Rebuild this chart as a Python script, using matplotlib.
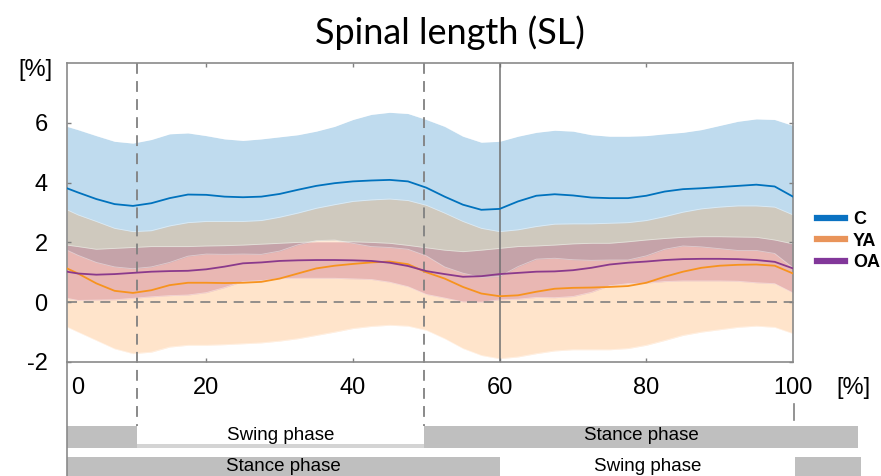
import numpy as np
import matplotlib
matplotlib.use("Agg")
import matplotlib.pyplot as plt
from matplotlib.lines import Line2D
from matplotlib.patches import Rectangle

plt.rcParams["font.family"] = ["Liberation Sans", "DejaVu Sans"]

# gait cycle [%]
x = [1, 2.5, 5, 7.5, 10, 12.5, 15, 17.5, 20, 22.5, 25, 27.5, 30, 32.5, 35, 37.5, 40,
     42.5, 45, 47.5, 50, 52.5, 55, 57.5, 60, 62.5, 65, 67.5, 70, 72.5, 75, 77.5, 80,
     82.5, 85, 87.5, 90, 92.5, 95, 97.5, 100]

c_mean = [3.81, 3.67, 3.45, 3.28, 3.22, 3.31, 3.48, 3.60, 3.59, 3.53, 3.51, 3.53, 3.62,
          3.76, 3.89, 3.98, 4.04, 4.07, 4.09, 4.04, 3.83, 3.53, 3.26, 3.09, 3.12, 3.37,
          3.56, 3.61, 3.57, 3.50, 3.48, 3.48, 3.56, 3.70, 3.78, 3.81, 3.85, 3.89, 3.93,
          3.87, 3.53]
c_upper = [5.88, 5.77, 5.57, 5.38, 5.32, 5.44, 5.63, 5.66, 5.57, 5.46, 5.41, 5.46, 5.53,
           5.60, 5.72, 5.88, 6.11, 6.28, 6.35, 6.31, 6.11, 5.88, 5.55, 5.35, 5.38, 5.55,
           5.68, 5.75, 5.72, 5.60, 5.55, 5.55, 5.57, 5.63, 5.68, 5.77, 5.91, 6.05, 6.13,
           6.11, 5.91]
c_lower = [1.74, 1.57, 1.33, 1.18, 1.12, 1.18, 1.33, 1.54, 1.61, 1.60, 1.61, 1.60, 1.71,
           1.92, 2.06, 2.08, 1.97, 1.86, 1.83, 1.77, 1.55, 1.18, 0.97, 0.83, 0.86, 1.19,
           1.44, 1.47, 1.42, 1.40, 1.41, 1.41, 1.55, 1.77, 1.88, 1.85, 1.79, 1.73, 1.73,
           1.63, 1.15]

ya_mean = [1.13, 0.96, 0.63, 0.38, 0.31, 0.40, 0.57, 0.65, 0.65, 0.64, 0.65, 0.68, 0.79,
           0.96, 1.13, 1.22, 1.28, 1.33, 1.36, 1.27, 1.00, 0.79, 0.51, 0.29, 0.20, 0.23,
           0.35, 0.45, 0.48, 0.49, 0.51, 0.54, 0.65, 0.85, 1.02, 1.15, 1.22, 1.25, 1.26,
           1.22, 0.96]
ya_upper = [3.09, 2.92, 2.70, 2.47, 2.36, 2.39, 2.55, 2.66, 2.70, 2.70, 2.70, 2.73, 2.84,
            2.98, 3.14, 3.26, 3.37, 3.42, 3.45, 3.40, 3.24, 2.98, 2.70, 2.47, 2.36, 2.42,
            2.53, 2.61, 2.62, 2.62, 2.64, 2.66, 2.73, 2.86, 3.01, 3.12, 3.18, 3.22, 3.22,
            3.18, 2.92]
ya_lower = [-0.83, -1.00, -1.28, -1.56, -1.72, -1.67, -1.50, -1.44, -1.44, -1.42, -1.39,
            -1.36, -1.30, -1.22, -1.11, -1.00, -0.88, -0.81, -0.77, -0.80, -0.94, -1.22,
            -1.55, -1.78, -1.89, -1.83, -1.72, -1.63, -1.59, -1.59, -1.59, -1.55, -1.44,
            -1.28, -1.11, -1.00, -0.92, -0.84, -0.80, -0.84, -1.05]

oa_mean = [1.02, 0.96, 0.92, 0.94, 0.98, 1.02, 1.04, 1.05, 1.10, 1.19, 1.30, 1.33, 1.38,
           1.40, 1.41, 1.41, 1.40, 1.38, 1.32, 1.21, 1.04, 0.94, 0.85, 0.87, 0.94, 0.98,
           1.02, 1.03, 1.07, 1.15, 1.26, 1.32, 1.36, 1.41, 1.44, 1.45, 1.45, 1.44, 1.41,
           1.35, 1.13]
oa_upper = [1.91, 1.86, 1.77, 1.80, 1.83, 1.86, 1.86, 1.86, 1.88, 1.89, 1.91, 1.94, 1.97,
            2.00, 2.02, 2.02, 2.02, 2.00, 1.97, 1.90, 1.82, 1.74, 1.69, 1.74, 1.80, 1.86,
            1.88, 1.91, 1.95, 1.97, 1.97, 2.02, 2.08, 2.13, 2.17, 2.19, 2.19, 2.18, 2.17,
            2.08, 1.95]
oa_lower = [0.13, 0.06, 0.07, 0.08, 0.13, 0.18, 0.22, 0.24, 0.32, 0.49, 0.69, 0.72, 0.79,
            0.80, 0.80, 0.80, 0.78, 0.76, 0.67, 0.52, 0.26, 0.14, 0.01, 0.00, 0.08, 0.10,
            0.16, 0.15, 0.19, 0.33, 0.55, 0.62, 0.64, 0.69, 0.71, 0.71, 0.71, 0.70, 0.65,
            0.62, 0.31]

groups = ["C", "YA", "OA"]
y_ticks = [-2, 0, 2, 4, 6]
x_labels = ["0", "20", "40", "60", "80", "100"]
x_label_pos = [2.5, 20, 40, 60, 80, 100]

# gait events (toe-off / heel strike) and phase rows
events = [10.5, 49.7]
foot_strike = 60
row1 = [(1, 10.5, "gray", ""), (10.5, 49.7, "white", "Swing phase"), (49.7, 108.9, "gray", "Stance phase")]
row2 = [(1, 60, "gray", "Stance phase"), (60, 100.3, "white", "Swing phase"), (100.3, 109.3, "gray", "")]

line_col = {"C": "#0072BD", "YA": "#F7931E", "OA": "#8A3A8C"}
fill_col = {"C": "#0072BD", "YA": "#FF9632", "OA": "#AA326E"}
leg_col = {"C": "#0A72C2", "YA": "#E9945A", "OA": "#82379A"}

fig = plt.figure(figsize = (8.81, 4.76), dpi = 100)
ax = fig.add_axes([0.0760, 0.2395, 0.8241, 0.6282])

bands = {"C": (c_mean, c_lower, c_upper), "YA": (ya_mean, ya_lower, ya_upper), "OA": (oa_mean, oa_lower, oa_upper)}
for g in groups :
    m, lo, hi = bands[g]
    ax.fill_between(x, lo, hi, color = fill_col[g], alpha = 0.25, lw = 0, zorder = 1)
    ax.plot(x, lo, color = "white", lw = 0.6, alpha = 0.45, zorder = 1.5)
    ax.plot(x, hi, color = "white", lw = 0.6, alpha = 0.45, zorder = 1.5)
for g in groups :
    m = bands[g][0]
    ax.plot(x, m, color = line_col[g], lw = 1.3, zorder = 3)

ax.axhline(0, color = "#808080", lw = 1.2, ls = (0, (6, 4)), zorder = 2)
for ev in events :
    ax.plot([ev, ev], [1.0, -0.214], transform = ax.get_xaxis_transform(), color = "#808080",
        lw = 1.3, ls = (0, (6, 4)), clip_on = False, zorder = 2)
ax.axvline(foot_strike, color = "#707070", lw = 1.1, zorder = 2)

ax.set_xlim(1, 100)
ax.set_ylim(-2, 8)
ax.set_xticks([20, 40, 60, 80])
ax.set_xticklabels([])
ax.set_yticks(y_ticks)
ax.set_yticklabels([str(t) for t in y_ticks])
ax.tick_params(axis = "both", direction = "in", length = 3, width = 1, color = "#808080",
    top = True, right = True, labelsize = 17, pad = 14)
ax.tick_params(axis = "x", labelbottom = False)
for s in ax.spines.values() :
    s.set_color("#8a8a8a")
    s.set_linewidth(1.2)

# x labels drawn below
for lab, pos in zip(x_labels, x_label_pos) :
    ax.text(pos, -0.087, lab, transform = ax.get_xaxis_transform(), ha = "center", va = "center",
        fontsize = 17)
ax.text(108.2, -0.087, "[%]", transform = ax.get_xaxis_transform(), ha = "center", va = "center",
    fontsize = 17)
ax.plot([100.2, 100.2], [-0.140, -0.194], transform = ax.get_xaxis_transform(), color = "#808080",
    lw = 1.2, clip_on = False)

# left line continuing below the axes
fig.add_artist(Line2D([66.5 / 881, 66.5 / 881], [0, 0.2395], color = "#8a8a8a", lw = 1.2))

# phase rows
trans = ax.get_xaxis_transform()
for x0, x1, col, lab in row1 :
    if col == "gray" :
        ax.add_patch(Rectangle((x0, -0.288), x1 - x0, 0.074, transform = trans, clip_on = False,
            facecolor = "#bfbfbf", edgecolor = "none"))
    else :
        ax.add_patch(Rectangle((x0, -0.288), x1 - x0, 0.074, transform = trans, clip_on = False,
            facecolor = "#d4d4d4", edgecolor = "none"))
        ax.add_patch(Rectangle((x0, -0.275), x1 - x0, 0.061, transform = trans, clip_on = False,
            facecolor = "white", edgecolor = "none"))
    if lab :
        ax.text((x0 + x1) / 2, -0.247, lab, transform = trans, ha = "center", va = "center", fontsize = 13.5)
for x0, x1, col, lab in row2 :
    if col == "gray" :
        ax.add_patch(Rectangle((x0, -0.42), x1 - x0, 0.102, transform = trans, clip_on = False,
            facecolor = "#bfbfbf", edgecolor = "none"))
    if lab :
        ax.text((x0 + x1) / 2, -0.350, lab, transform = trans, ha = "center", va = "center", fontsize = 13.5)

fig.text(35 / 881, 1 - 70 / 476, "[%]", ha = "center", va = "center", fontsize = 17)
fig.text(450 / 881, 1 - 33 / 476, "Spinal length (SL)", ha = "center", va = "center", fontsize = 26,
    family = ["Lato", "DejaVu Sans"])

handles = [Line2D([], [], color = leg_col[g], lw = 4.5) for g in groups]
fig.legend(handles, groups, loc = "upper left", bbox_to_anchor = (817 / 881, 1 - 211 / 476),
    frameon = False, borderpad = 0, borderaxespad = 0, handlelength = 1.55, handletextpad = 0.45,
    labelspacing = 0.25, prop = {"weight": "bold", "size": 13})

fig.savefig("out.png", dpi = 100)
